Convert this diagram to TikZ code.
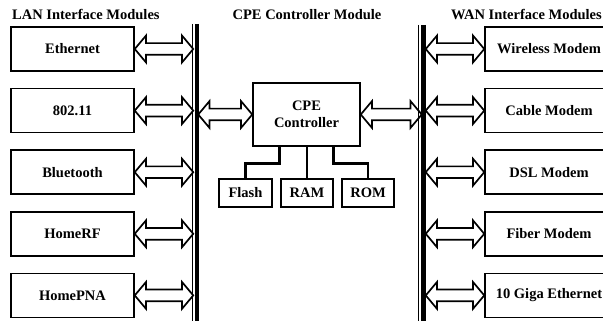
\documentclass[tikz,border=0pt]{standalone}
\usepackage{fontspec}
\setmainfont{Liberation Serif}
\usetikzlibrary{calc,positioning,shapes.arrows}

\begin{document}
\begin{tikzpicture}[
    x=1pt, y=-1pt,
    every node/.style={font=\bfseries\fontsize{14.5}{17}\selectfont},
    modbox/.style={
      draw,
      line width=1.5pt,
      minimum width=123pt,
      minimum height=44pt,
      inner sep=0pt
    },
    wanbox/.style={modbox, minimum width=128pt},
    membox/.style={
      draw,
      line width=1.5pt,
      minimum width=52pt,
      minimum height=28pt,
      inner sep=0pt
    },
    busarrow/.style={
      double arrow,
      draw,
      line width=1.7pt,
      inner xsep=0pt,
      inner ysep=5pt,
      outer sep=0pt,
      double arrow head extend=7.5pt,
      double arrow tip angle=100,
      minimum height=58.5pt
    },
    busthin/.style={line width=1pt},
    busthick/.style={line width=4.5pt},
    wire/.style={line width=2.6pt}
  ]
  \useasboundingbox (0,0) rectangle (603,321);
  \clip (0,0) rectangle (603,321);

  % titles
  \node[anchor=base west, inner sep=0pt] (lantitle) at (12,20) {LAN Interface Modules};
  \node[anchor=base, inner sep=0pt] (cpetitle) at (307,20) {CPE Controller Module};
  \node[anchor=base west, inner sep=0pt] (wantitle) at (451,20) {WAN Interface Modules};

  % buses
  \draw[busthin] (192.5,24) -- (192.5,321);
  \draw[busthick] (197,24) -- (197,321);
  \draw[busthin] (418.5,25) -- (418.5,321);
  \draw[busthick] (423.5,25) -- (423.5,321);

  % LAN side
  \node[modbox] (eth) at (72.5,49) {Ethernet};
  \node[modbox] (wifi) at (72.5,110.6) {802.11};
  \node[modbox] (bt) at (72.5,172.2) {Bluetooth};
  \node[modbox] (homerf) at (72.5,233.8) {HomeRF};
  \node[modbox] (homepna) at (72.5,295.4) {HomePNA};

  \node[busarrow, right=0pt of eth] (aeth) {};
  \node[busarrow, right=0pt of wifi] (awifi) {};
  \node[busarrow, right=0pt of bt] (abt) {};
  \node[busarrow, right=0pt of homerf] (ahomerf) {};
  \node[busarrow, right=0pt of homepna] (ahomepna) {};

  % WAN side
  \node[wanbox] (wless) at (549,49) {Wireless Modem};
  \node[wanbox] (cable) at (549,110.6) {Cable Modem};
  \node[wanbox] (dsl) at (549,172.2) {DSL Modem};
  \node[wanbox] (fiber) at (549,233.8) {Fiber Modem};
  \node[wanbox] (tengig) at (549,295.4) {10 Giga Ethernet};

  \node[busarrow, left=0pt of wless] (awless) {};
  \node[busarrow, left=0pt of cable] (acable) {};
  \node[busarrow, left=0pt of dsl] (adsl) {};
  \node[busarrow, left=0pt of fiber] (afiber) {};
  \node[busarrow, left=0pt of tengig] (atengig) {};

  % controller
  \node[
    draw,
    line width=1.5pt,
    minimum width=107pt,
    minimum height=63pt,
    align=center
  ] (ctrl) at (306.5,114.5) {CPE\\Controller};

  \node[busarrow, minimum height=54pt, left=0pt of ctrl] (actrlin) {};
  \node[busarrow, minimum height=61pt, right=0pt of ctrl] (actrlout) {};

  \node[membox, minimum width=53pt] (flash) at (245.5,193) {Flash};
  \node[membox] (ram) at (307,193) {RAM};
  \node[membox] (rom) at (368,193) {ROM};

  \draw[wire] ($(ctrl.south west)!.25!(ctrl.south east)$) -- ++(0,17) -| (flash.north);
  \draw[wire] (ctrl.south -| ram.north) -- (ram.north);
  \draw[wire] ($(ctrl.south west)!.75!(ctrl.south east)$) -- ++(0,17) -| (rom.north);
\end{tikzpicture}
\end{document}
